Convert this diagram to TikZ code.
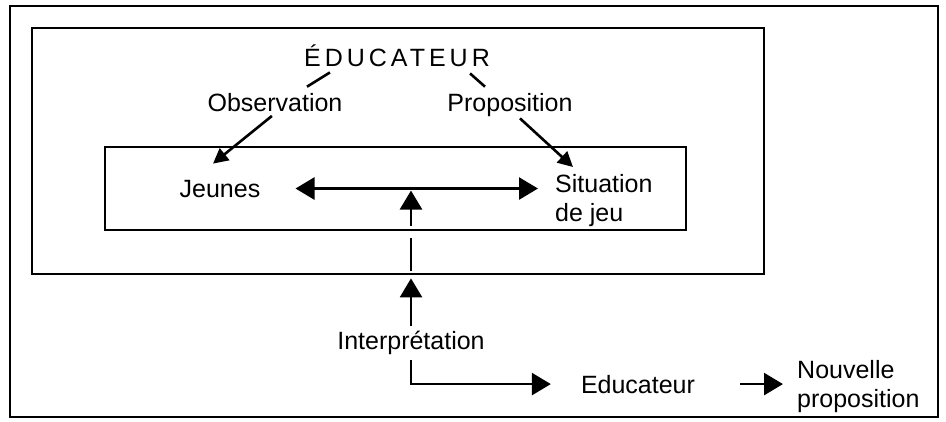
\documentclass[tikz,border=0pt]{standalone}
\usepackage{fontspec}
\setmainfont{Liberation Sans}
\usepackage{tikz}
\usetikzlibrary{arrows.meta}
\usetikzlibrary{positioning}

\begin{document}
\begin{tikzpicture}[x=1pt, y=-1pt,
    lbl/.style={inner sep=2pt, font=\fontsize{25}{29.5}\selectfont},
    boxline/.style={draw, line width=2.8pt, inner sep=0pt},
    con/.style={line width=2.6pt},
    bighead/.style={Triangle[length=19pt,width=22pt]},
    bigarr/.style={con, -{Triangle[length=19pt,width=22pt]}},
    twoarr/.style={con, {Triangle[length=19pt,width=22pt]}-{Triangle[length=19pt,width=22pt]}},
    smallarr/.style={con, -{Triangle[length=15pt,width=15pt]}},
  ]
  \useasboundingbox (0,0) rectangle (946,421);

  % frames
  \node[boxline, minimum width=928pt, minimum height=411pt] (outer) at (474,211.5) {};
  \node[boxline, minimum width=732pt, minimum height=246pt] (frame) at (398,151) {};
  \node[boxline, minimum width=581pt, minimum height=83pt] (box) at (395.5,188.5) {};

  % texts
  \node[lbl, anchor=base] (educ) at (397,66)
    {\addfontfeatures{LetterSpace=16}ÉDUCATEUR};
  \node[lbl, anchor=base] (obs) at (275,111) {Observation};
  \node[lbl, anchor=base] (prop) at (510,111) {Proposition};
  \node[lbl, anchor=base] (jeunes) at (220,197) {Jeunes};
  \node[lbl, anchor=north west, align=left] (sit) at (553,172) {Situation\\de jeu};
  \node[lbl, anchor=base] (interp) at (411,349) {Interprétation};
  \node[lbl, anchor=base] (educ2) at (638,393) {Educateur};
  \node[lbl, anchor=north west, align=left] (nouv) at (795,358) {Nouvelle\\proposition};

  % educateur -> observation / proposition
  \draw[con] ([shift={(28,4)}]educ.south west) -- ([shift={(32,-4)}]obs.north);
  \draw[con] ([shift={(-22,5)}]educ.south east) -- ([shift={(-25,-4)}]prop.north);
  \draw[smallarr, shorten <=4pt] (obs.south) -- ([shift={(-7,-14)}]jeunes.north);
  \draw[smallarr] ([shift={(10,0)}]prop.south) -- ([shift={(20,-5)}]sit.north west);

  % jeunes <-> situation
  \draw[twoarr, shorten <=33pt, shorten >=15pt]
    (jeunes.east) -- (jeunes.east -| sit.west);

  % interpretation, up through the frames
  \draw[bigarr, shorten <=2pt, shorten >=3pt] (interp.north) -- (interp.north |- frame.south);
  \draw[con, shorten <=4pt, shorten >=7pt] (interp.north |- frame.south) -- (interp.north |- box.south);
  \draw[bigarr, shorten <=5pt, shorten >=2pt] (interp.north |- box.south) -- (interp.north |- jeunes.east);

  % interpretation -> educateur -> nouvelle proposition
  \draw[bigarr, shorten <=4pt, shorten >=28pt] (interp.south) |- (educ2.west);
  \draw[bigarr, shorten <=43pt, shorten >=12pt] (educ2.east) -- (educ2.east -| nouv.west);
\end{tikzpicture}
\end{document}
